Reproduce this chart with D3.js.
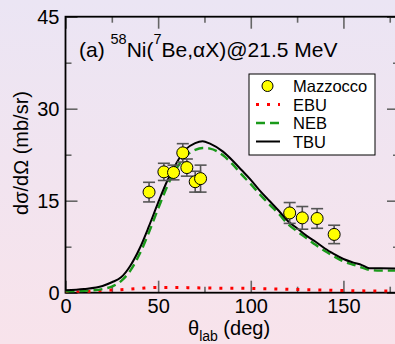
<!DOCTYPE html>
<html>
<head>
<meta charset="utf-8">
<script src="https://cdn.jsdelivr.net/npm/d3@7"></script>
<style>
    body { margin: 0; }
    svg { display: block; font-family: "Liberation Sans", Arial, sans-serif; }
</style>
</head>
<body>
<div id="chart"></div>
<script>
// measured points (Mazzocco)
const expTheta = [45.1, 53.1, 58.3, 63.3, 65.5, 70.0, 72.9, 121.0, 127.8, 135.8, 145.0];
const expValue = [16.4, 19.7, 19.6, 22.8, 20.4, 18.1, 18.6, 13.0, 12.2, 12.1, 9.5];
const expError = [1.6, 1.4, 1.2, 1.5, 1.4, 1.7, 2.2, 1.7, 1.85, 1.6, 1.5];

// calculated curves
const calcTheta = [0, 10, 20, 25, 30, 35, 40, 45, 50, 55, 60, 65, 70, 74, 78, 85, 90, 95, 100,
    105, 110, 115, 120, 125, 130, 135, 140, 145, 150, 155, 160, 164, 170, 180];
const tbuValue = [0.4, 0.6, 1.1, 1.7, 2.5, 4.4, 7.2, 10.8, 14.7, 18.3, 21.2, 23.4, 24.4, 24.7, 24.3,
    23.0, 21.6, 20.0, 18.4, 16.6, 15.0, 13.4, 11.7, 10.5, 9.3, 8.3, 7.2, 6.3, 5.5, 4.95, 4.5, 4.0, 4.0, 3.95];
const nebValue = [0.2, 0.3, 0.6, 1.0, 1.9, 3.6, 6.3, 9.8, 13.7, 17.4, 20.3, 22.3, 23.3, 23.6, 23.5,
    22.4, 21.0, 19.3, 17.7, 16.0, 14.4, 12.9, 11.2, 10.0, 8.9, 7.8, 6.8, 5.9, 5.1, 4.6, 4.1, 3.7, 3.6, 3.6];
const ebuTheta = [0, 10, 20, 30, 40, 50, 60, 70, 80, 100, 120, 140, 160, 180];
const ebuValue = [0.05, 0.15, 0.35, 0.5, 0.7, 0.85, 0.85, 0.8, 0.75, 0.7, 0.55, 0.42, 0.3, 0.25];

const xMajor = [0, 50, 100, 150];
const xMinor = [25, 75, 125, 175];
const yMajor = [0, 15, 30, 45];
const yMinor = [7.5, 22.5, 37.5];
const legendLabels = ["Mazzocco", "EBU", "NEB", "TBU"];

class CrossSectionChart {

    constructor(parentElement) {
        this.parentElement = parentElement;
        this.initVis();
    }

    initVis() {
        let vis = this;

        vis.margin = { top: 16.7, left: 65.5 };
        vis.width = 333.5;
        vis.height = 276;

        vis.root = d3.select("#" + vis.parentElement).append("svg")
            .attr("width", 395)
            .attr("height", 344);

        // pale lavender to pink background
        let grad = vis.root.append("defs").append("linearGradient")
            .attr("id", "bg").attr("x1", 0).attr("y1", 0).attr("x2", 0).attr("y2", 1);
        grad.append("stop").attr("offset", "0%").attr("stop-color", "#ebe5f4");
        grad.append("stop").attr("offset", "100%").attr("stop-color", "#f8e3eb");
        vis.root.append("defs").append("clipPath").attr("id", "clip")
            .append("rect").attr("width", vis.width).attr("height", vis.height);

        vis.root.append("rect")
            .attr("width", 395).attr("height", 344)
            .attr("fill", "url(#bg)");

        vis.svg = vis.root.append("g")
            .attr("transform", "translate(" + vis.margin.left + "," + vis.margin.top + ")");

        vis.x = d3.scaleLinear().domain([0, 180]).range([0, vis.width]);
        vis.y = d3.scaleLinear().domain([0, 45]).range([vis.height, 0]);

        vis.drawAxes();
        vis.drawData();
        vis.drawText();
    }

    drawAxes() {
        let vis = this;

        let addAxis = function(axis, transform) {
            let g = vis.svg.append("g").attr("transform", transform).call(axis);
            g.select(".domain").remove();
            g.selectAll(".tick line").attr("stroke", "#666").attr("stroke-width", 1.6);
            g.selectAll(".tick text").attr("font-size", 20).attr("fill", "#000").attr("font-family", "Liberation Sans, Arial, sans-serif");
            return g;
        };

        // bottom
        addAxis(d3.axisBottom(vis.x).tickValues(xMajor).tickSizeInner(-12).tickSizeOuter(0).tickPadding(6),
            "translate(0," + vis.height + ")");
        addAxis(d3.axisBottom(vis.x).tickValues(xMinor).tickSizeInner(-6).tickSizeOuter(0).tickFormat(""),
            "translate(0," + vis.height + ")");
        // top
        addAxis(d3.axisTop(vis.x).tickValues(xMajor).tickSizeInner(-12).tickSizeOuter(0).tickFormat(""), "translate(0,0)");
        addAxis(d3.axisTop(vis.x).tickValues(xMinor).tickSizeInner(-6).tickSizeOuter(0).tickFormat(""), "translate(0,0)");
        // left
        addAxis(d3.axisLeft(vis.y).tickValues(yMajor).tickSizeInner(-12).tickSizeOuter(0).tickPadding(6), "translate(0,0)");
        addAxis(d3.axisLeft(vis.y).tickValues(yMinor).tickSizeInner(-6).tickSizeOuter(0).tickFormat(""), "translate(0,0)");
        // right
        addAxis(d3.axisRight(vis.y).tickValues(yMajor).tickSizeInner(-12).tickSizeOuter(0).tickFormat(""),
            "translate(" + vis.width + ",0)");
        addAxis(d3.axisRight(vis.y).tickValues(yMinor).tickSizeInner(-6).tickSizeOuter(0).tickFormat(""),
            "translate(" + vis.width + ",0)");

        // frame
        vis.svg.append("rect")
            .attr("width", vis.width)
            .attr("height", vis.height)
            .attr("fill", "none")
            .attr("stroke", "#000")
            .attr("stroke-width", 1.8);
    }

    drawData() {
        let vis = this;

        let plot = vis.svg.append("g").attr("clip-path", "url(#clip)");

        let line = d3.line()
            .x(d => vis.x(d[0]))
            .y(d => vis.y(d[1]))
            .curve(d3.curveMonotoneX);

        plot.append("path")
            .datum(d3.zip(ebuTheta, ebuValue))
            .attr("d", line)
            .attr("fill", "none")
            .attr("stroke", "#ff0000")
            .attr("stroke-width", 3)
            .attr("stroke-dasharray", "3,8");

        plot.append("path")
            .datum(d3.zip(calcTheta, nebValue))
            .attr("d", line)
            .attr("fill", "none")
            .attr("stroke", "#1a9a1a")
            .attr("stroke-width", 2.4)
            .attr("stroke-dasharray", "9,5");

        plot.append("path")
            .datum(d3.zip(calcTheta, tbuValue))
            .attr("d", line)
            .attr("fill", "none")
            .attr("stroke", "#000")
            .attr("stroke-width", 2);

        // error bars
        let pts = d3.zip(expTheta, expValue, expError);
        let err = vis.svg.append("g").selectAll("g").data(pts).join("g")
            .attr("stroke", "#555").attr("stroke-width", 1.6);
        err.append("line")
            .attr("x1", d => vis.x(d[0])).attr("x2", d => vis.x(d[0]))
            .attr("y1", d => vis.y(d[1] - d[2])).attr("y2", d => vis.y(d[1] + d[2]));
        err.append("line")
            .attr("x1", d => vis.x(d[0]) - 6).attr("x2", d => vis.x(d[0]) + 6)
            .attr("y1", d => vis.y(d[1] + d[2])).attr("y2", d => vis.y(d[1] + d[2]));
        err.append("line")
            .attr("x1", d => vis.x(d[0]) - 6).attr("x2", d => vis.x(d[0]) + 6)
            .attr("y1", d => vis.y(d[1] - d[2])).attr("y2", d => vis.y(d[1] - d[2]));

        vis.svg.append("g").selectAll("circle").data(pts).join("circle")
            .attr("cx", d => vis.x(d[0]))
            .attr("cy", d => vis.y(d[1]))
            .attr("r", 6)
            .attr("fill", "#ffff00")
            .attr("stroke", "#000")
            .attr("stroke-width", 1);

        // legend
        let lg = vis.svg.append("g").attr("transform", "translate(" + (249 - vis.margin.left) + "," + (74 - vis.margin.top) + ")");
        lg.append("rect")
            .attr("width", 126).attr("height", 81)
            .attr("fill", "#fff").attr("stroke", "#000").attr("stroke-width", 1);

        let rows = lg.selectAll("g.row").data(legendLabels).join("g")
            .attr("class", "row")
            .attr("transform", (d, i) => "translate(0," + (12 + i * 18.5) + ")");
        rows.append("text")
            .attr("x", 44).attr("y", 6)
            .attr("font-size", 16.5)
            .text(d => d);

        lg.append("circle").attr("cx", 18.5).attr("cy", 12).attr("r", 5.5)
            .attr("fill", "#ffff00").attr("stroke", "#000").attr("stroke-width", 1);
        lg.append("line").attr("x1", 7).attr("x2", 31).attr("y1", 30.5).attr("y2", 30.5)
            .attr("stroke", "#ff0000").attr("stroke-width", 3).attr("stroke-dasharray", "3,8");
        lg.append("line").attr("x1", 7).attr("x2", 31).attr("y1", 49).attr("y2", 49)
            .attr("stroke", "#1a9a1a").attr("stroke-width", 2.4).attr("stroke-dasharray", "9,5");
        lg.append("line").attr("x1", 7).attr("x2", 31).attr("y1", 67.5).attr("y2", 67.5)
            .attr("stroke", "#000").attr("stroke-width", 2);
    }

    drawText() {
        let vis = this;

        // panel title
        let t = vis.root.append("text")
            .attr("x", 79).attr("y", 57)
            .attr("font-size", 21);
        t.append("tspan").text("(a) ");
        t.append("tspan").attr("font-size", 14.5).attr("dy", -13).text("58");
        t.append("tspan").attr("dy", 13).text("Ni(");
        t.append("tspan").attr("font-size", 14.5).attr("dy", -13).text("7");
        t.append("tspan").attr("dy", 13).text("Be,αX)@21.5 MeV");

        // x title
        let xt = vis.root.append("text")
            .attr("x", 188).attr("y", 335)
            .attr("font-size", 20);
        xt.append("tspan").text("θ");
        xt.append("tspan").attr("font-size", 14).attr("dy", 6).text("lab");
        xt.append("tspan").attr("dy", -6).text(" (deg)");

        // y title
        vis.root.append("text")
            .attr("transform", "translate(28,153) rotate(-90)")
            .attr("text-anchor", "middle")
            .attr("font-size", 20)
            .text("dσ/dΩ (mb/sr)");
    }
}

new CrossSectionChart("chart");
</script>
</body>
</html>
